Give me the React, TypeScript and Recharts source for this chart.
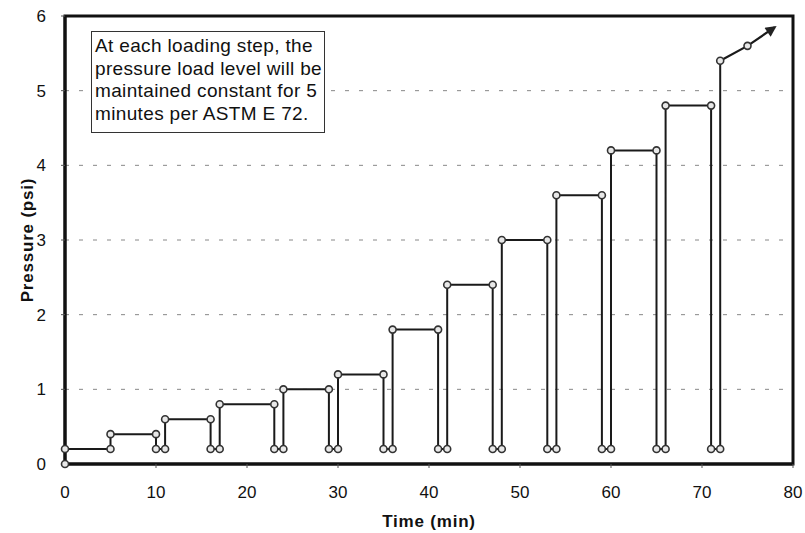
import React from "react";
import {
  LineChart,
  Line,
  XAxis,
  YAxis,
  CartesianGrid,
  ReferenceArea,
} from "recharts";

const timeValues = [
  0, 0, 5, 5, 10, 10, 11, 11, 16, 16, 17, 17, 23, 23, 24, 24, 29, 29, 30, 30,
  35, 35, 36, 36, 41, 41, 42, 42, 47, 47, 48, 48, 53, 53, 54, 54, 59, 59, 60,
  60, 65, 65, 66, 66, 71, 71, 72, 72,
];
const pressureValues = [
  0, 0.2, 0.2, 0.4, 0.4, 0.2, 0.2, 0.6, 0.6, 0.2, 0.2, 0.8, 0.8, 0.2, 0.2, 1.0,
  1.0, 0.2, 0.2, 1.2, 1.2, 0.2, 0.2, 1.8, 1.8, 0.2, 0.2, 2.4, 2.4, 0.2, 0.2,
  3.0, 3.0, 0.2, 0.2, 3.6, 3.6, 0.2, 0.2, 4.2, 4.2, 0.2, 0.2, 4.8, 4.8, 0.2,
  0.2, 5.4,
];
const arrowTimes = [72, 75, 78];
const arrowPressures = [5.4, 5.6, 5.85];

const xTicks = [0, 10, 20, 30, 40, 50, 60, 70, 80];
const yTicks = [0, 1, 2, 3, 4, 5, 6];

const noteLines = [
  "At each loading step, the",
  "pressure load level will be",
  "maintained constant for 5",
  "minutes per ASTM E 72.",
];

const stepData = timeValues.map((t, i) => ({ t, p: pressureValues[i] }));
const arrowData = arrowTimes.map((t, i) => ({ t, p: arrowPressures[i] }));

const FONT = "'Liberation Sans', Arial, Helvetica, sans-serif";

const renderDot = (props: any) => {
  const { cx, cy, index } = props;
  if (cx == null || cy == null) return <g key={`d${index}`} />;
  return (
    <circle
      key={`d${index}`}
      cx={cx}
      cy={cy}
      r={3.5}
      fill="#e8e8e8"
      stroke="#333"
      strokeWidth={1.6}
    />
  );
};

const renderArrowDot = (props: any) => {
  const { cx, cy, index } = props;
  if (index !== 1 || cx == null) return <g key={`a${index}`} />;
  return (
    <circle
      key={`a${index}`}
      cx={cx}
      cy={cy}
      r={3.5}
      fill="#e8e8e8"
      stroke="#333"
      strokeWidth={1.6}
    />
  );
};

export default function App() {
  return (
    <div
      style={{
        position: "absolute",
        left: 0,
        top: 0,
        width: 805,
        height: 533,
        background: "#fff",
        fontFamily: FONT,
      }}
    >
      <LineChart
        width={805}
        height={533}
        margin={{ top: 16, right: 12, bottom: 0, left: 0 }}
        style={{ fontFamily: FONT }}
      >
        <defs>
          <marker
            id="arrowHead"
            viewBox="0 0 10 10"
            refX="8"
            refY="5"
            markerWidth="6"
            markerHeight="5"
            orient="auto"
          >
            <path d="M0,0 L10,5 L0,10 z" fill="#222" />
          </marker>
        </defs>
        <CartesianGrid
          horizontal={true}
          vertical={false}
          stroke="#888"
          strokeDasharray="4 10"
          strokeWidth={1}
        />
        <XAxis
          type="number"
          dataKey="t"
          domain={[0, 80]}
          ticks={xTicks}
          interval={0}
          height={69}
          axisLine={{ stroke: "#111", strokeWidth: 3 }}
          tickLine={{ stroke: "#555" }}
          tickSize={4}
          tickMargin={18}
          tick={{ fill: "#111", fontSize: 17, fontFamily: FONT }}
          label={{
            value: "Time (min)",
            position: "insideBottom",
            offset: 6,
            fill: "#111",
            fontSize: 17,
            fontWeight: "bold",
            fontFamily: FONT,
            letterSpacing: 0.8,
          }}
        />
        <YAxis
          type="number"
          dataKey="p"
          domain={[0, 6]}
          ticks={yTicks}
          interval={0}
          width={65}
          axisLine={{ stroke: "#111", strokeWidth: 3 }}
          tickLine={{ stroke: "#555" }}
          tickSize={4}
          tickMargin={15}
          tick={{ fill: "#111", fontSize: 17, fontFamily: FONT }}
          label={{
            value: "Pressure (psi)",
            angle: -90,
            position: "center",
            dx: -6,
            fill: "#111",
            fontSize: 17,
            fontWeight: "bold",
            fontFamily: FONT,
            letterSpacing: 0.8,
          }}
        />
        <ReferenceArea
          x1={0}
          x2={80}
          y1={0}
          y2={6}
          fill="none"
          fillOpacity={0}
          stroke="#111"
          strokeWidth={3}
          ifOverflow="visible"
        />
        <Line
          data={stepData}
          dataKey="p"
          type="linear"
          stroke="#1a1a1a"
          strokeWidth={2}
          dot={renderDot}
          activeDot={false}
          isAnimationActive={false}
        />
        <Line
          data={arrowData}
          dataKey="p"
          type="linear"
          stroke="#1a1a1a"
          strokeWidth={2.2}
          dot={renderArrowDot}
          activeDot={false}
          markerEnd="url(#arrowHead)"
          isAnimationActive={false}
        />
      </LineChart>
      <div
        style={{
          position: "absolute",
          left: 91,
          top: 31,
          width: 234,
          height: 102,
          boxSizing: "border-box",
          border: "1.5px solid #333",
          background: "#fff",
          padding: "3px 0 0 3px",
          fontSize: 19,
          lineHeight: "22.7px",
          letterSpacing: 0.35,
          color: "#111",
          fontFamily: FONT,
          whiteSpace: "nowrap",
        }}
      >
        {noteLines.map((l) => (
          <div key={l}>{l}</div>
        ))}
      </div>
    </div>
  );
}
